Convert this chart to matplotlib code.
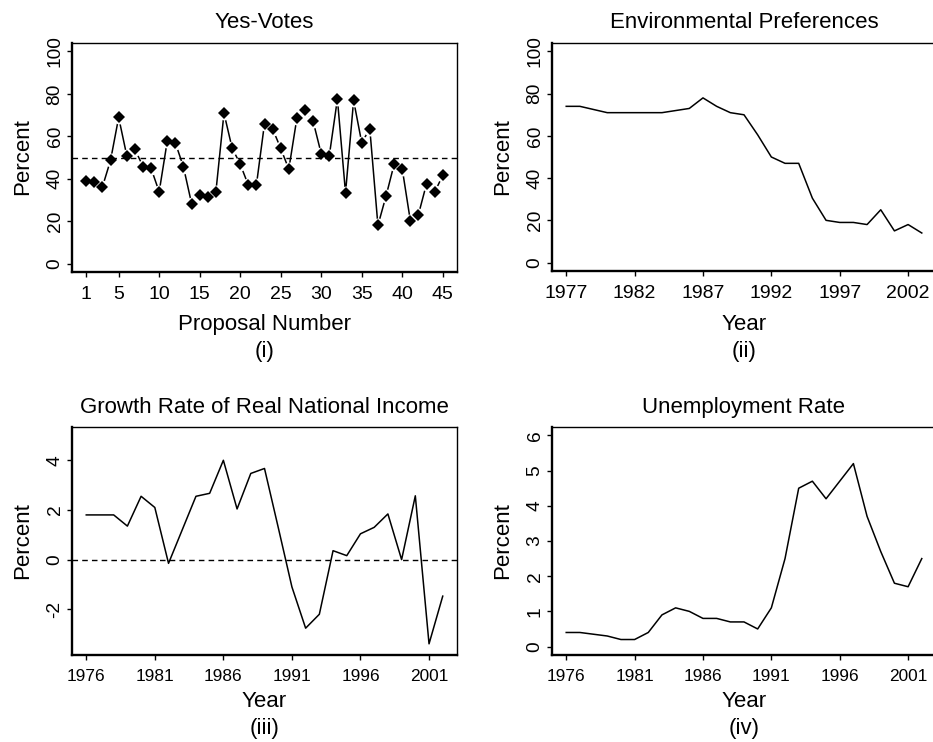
import numpy as np
import matplotlib
matplotlib.use('Agg')
import matplotlib.pyplot as plt

plt.rcParams['font.family'] = ['Liberation Sans', 'DejaVu Sans']
plt.rcParams['axes.unicode_minus'] = False

# (i) yes-votes per proposal
proposal = np.arange(1, 46)
yes_votes = [38.9, 38.4, 36.2, 48.7, 68.9, 50.9, 54.0, 45.7, 44.9, 33.8,
             57.8, 56.9, 45.5, 28.3, 32.5, 31.3, 33.8, 70.9, 54.5, 46.9,
             37.0, 37.0, 66.0, 63.5, 54.3, 44.5, 68.6, 72.2, 67.1, 51.8,
             50.9, 77.6, 33.3, 76.9, 57.0, 63.5, 18.0, 31.8, 46.8, 44.7,
             20.2, 23.1, 37.6, 33.6, 41.6]

# (ii) environmental preferences
env_years = np.arange(1977, 2004)
env_pref = [74, 74, 72.5, 71, 71, 71, 71, 71, 72, 73, 78, 74, 71, 70,
            60.5, 50, 47, 47, 30.5, 20, 19, 19, 18, 25, 15, 18, 14]

# (iii) growth rate of real national income
gr_years = np.arange(1976, 2003)
growth = [1.8, 1.8, 1.8, 1.35, 2.55, 2.1, -0.15, 1.2, 2.55, 2.67, 4.0, 2.04,
          3.47, 3.67, 1.3, -1.1, -2.76, -2.2, 0.36, 0.16, 1.04, 1.3, 1.84,
          0.0, 2.57, -3.39, -1.47]

# (iv) unemployment rate
un_years = np.arange(1976, 2003)
unemp = [0.4, 0.4, 0.35, 0.3, 0.2, 0.2, 0.4, 0.9, 1.1, 1.0, 0.8, 0.8, 0.7,
         0.7, 0.5, 1.1, 2.5, 4.5, 4.7, 4.2, 4.7, 5.2, 3.7, 2.7, 1.8, 1.7, 2.5]

W, H = 933, 742
fig = plt.figure(figsize=(W / 100, H / 100), dpi=100)


def box(l, t, r, b):
    return [l / W, 1 - b / H, (r - l) / W, (b - t) / H]


def rlim(lo, hi):
    d = (hi - lo) * 0.04
    return lo - d, hi + d


def style(ax, xfs):
    for s in ['left', 'bottom']:
        ax.spines[s].set_linewidth(1.7)
    for s in ['top', 'right']:
        ax.spines[s].set_linewidth(1.0)
    ax.tick_params(axis='x', length=3.6, width=1.0, pad=6.5, labelsize=xfs)
    ax.tick_params(axis='y', length=3.6, width=1.0, pad=2.5, labelsize=13.8)
    for lbl in ax.get_yticklabels():
        lbl.set_rotation(90)
        lbl.set_va('center')
        lbl.set_ha('right')


def ftext(x, y, s, **kw):
    fig.text(x / W, 1 - y / H, s, fontsize=16, **kw)


lw = 1.1

# panel (i)
ax1 = fig.add_axes(box(72, 43, 457, 272))
ax1.plot(proposal, yes_votes, color='black', lw=lw, zorder=2)
ax1.plot(proposal, yes_votes, 'o', color='white', ms=10, mew=0, zorder=3)
ax1.axhline(50, color='black', lw=1.0, ls=(0, (4, 3)), zorder=4)
ax1.plot(proposal, yes_votes, 'D', color='black', ms=5.8, mew=0, zorder=5)
ax1.set_xlim(rlim(1, 45))
ax1.set_ylim(rlim(0, 100))
ax1.set_xticks([1, 5, 10, 15, 20, 25, 30, 35, 40, 45])
ax1.set_yticks([0, 20, 40, 60, 80, 100])
style(ax1, 14)

# panel (ii)
ax2 = fig.add_axes(box(552, 43, 936, 271))
ax2.plot(env_years, env_pref, color='black', lw=lw)
ax2.set_xlim(rlim(1977, 2003))
ax2.set_ylim(rlim(0, 100))
ax2.set_xticks([1977, 1982, 1987, 1992, 1997, 2002])
ax2.set_yticks([0, 20, 40, 60, 80, 100])
style(ax2, 14)

# panel (iii)
ax3 = fig.add_axes(box(72, 427, 457, 655))
ax3.plot(gr_years, growth, color='black', lw=lw)
ax3.axhline(0, color='black', lw=1.0, ls=(0, (4, 3)))
ax3.set_xlim(rlim(1976, 2002))
ax3.set_ylim(rlim(-3.5, 5))
ax3.set_xticks([1976, 1981, 1986, 1991, 1996, 2001])
ax3.set_yticks([-2, 0, 2, 4])
style(ax3, 12.4)

# panel (iv)
ax4 = fig.add_axes(box(552, 427, 936, 655))
ax4.plot(un_years, unemp, color='black', lw=lw)
ax4.set_xlim(rlim(1976, 2002))
ax4.set_ylim(rlim(0, 6))
ax4.set_xticks([1976, 1981, 1986, 1991, 1996, 2001])
ax4.set_yticks([0, 1, 2, 3, 4, 5, 6])
style(ax4, 12.4)

# titles, axis labels, panel tags
cx1 = (72 + 457) / 2
cx2 = (552 + 936) / 2
ftext(cx1, 28, 'Yes-Votes', ha='center', va='baseline')
ftext(cx2, 28, 'Environmental Preferences', ha='center', va='baseline')
ftext(cx1, 413, 'Growth Rate of Real National Income', ha='center', va='baseline')
ftext(cx2, 413, 'Unemployment Rate', ha='center', va='baseline')

ftext(cx1, 330, 'Proposal Number', ha='center', va='baseline')
ftext(cx1, 357, '(i)', ha='center', va='baseline')
ftext(cx2, 330, 'Year', ha='center', va='baseline')
ftext(cx2, 357, '(ii)', ha='center', va='baseline')
ftext(cx1, 707, 'Year', ha='center', va='baseline')
ftext(cx1, 734, '(iii)', ha='center', va='baseline')
ftext(cx2, 707, 'Year', ha='center', va='baseline')
ftext(cx2, 734, '(iv)', ha='center', va='baseline')

for x, yc in [(28, 157), (508, 157), (28, 541), (508, 541)]:
    ftext(x, yc, 'Percent', rotation=90, rotation_mode='anchor',
          ha='center', va='baseline')

fig.savefig('out.png', dpi=100)
